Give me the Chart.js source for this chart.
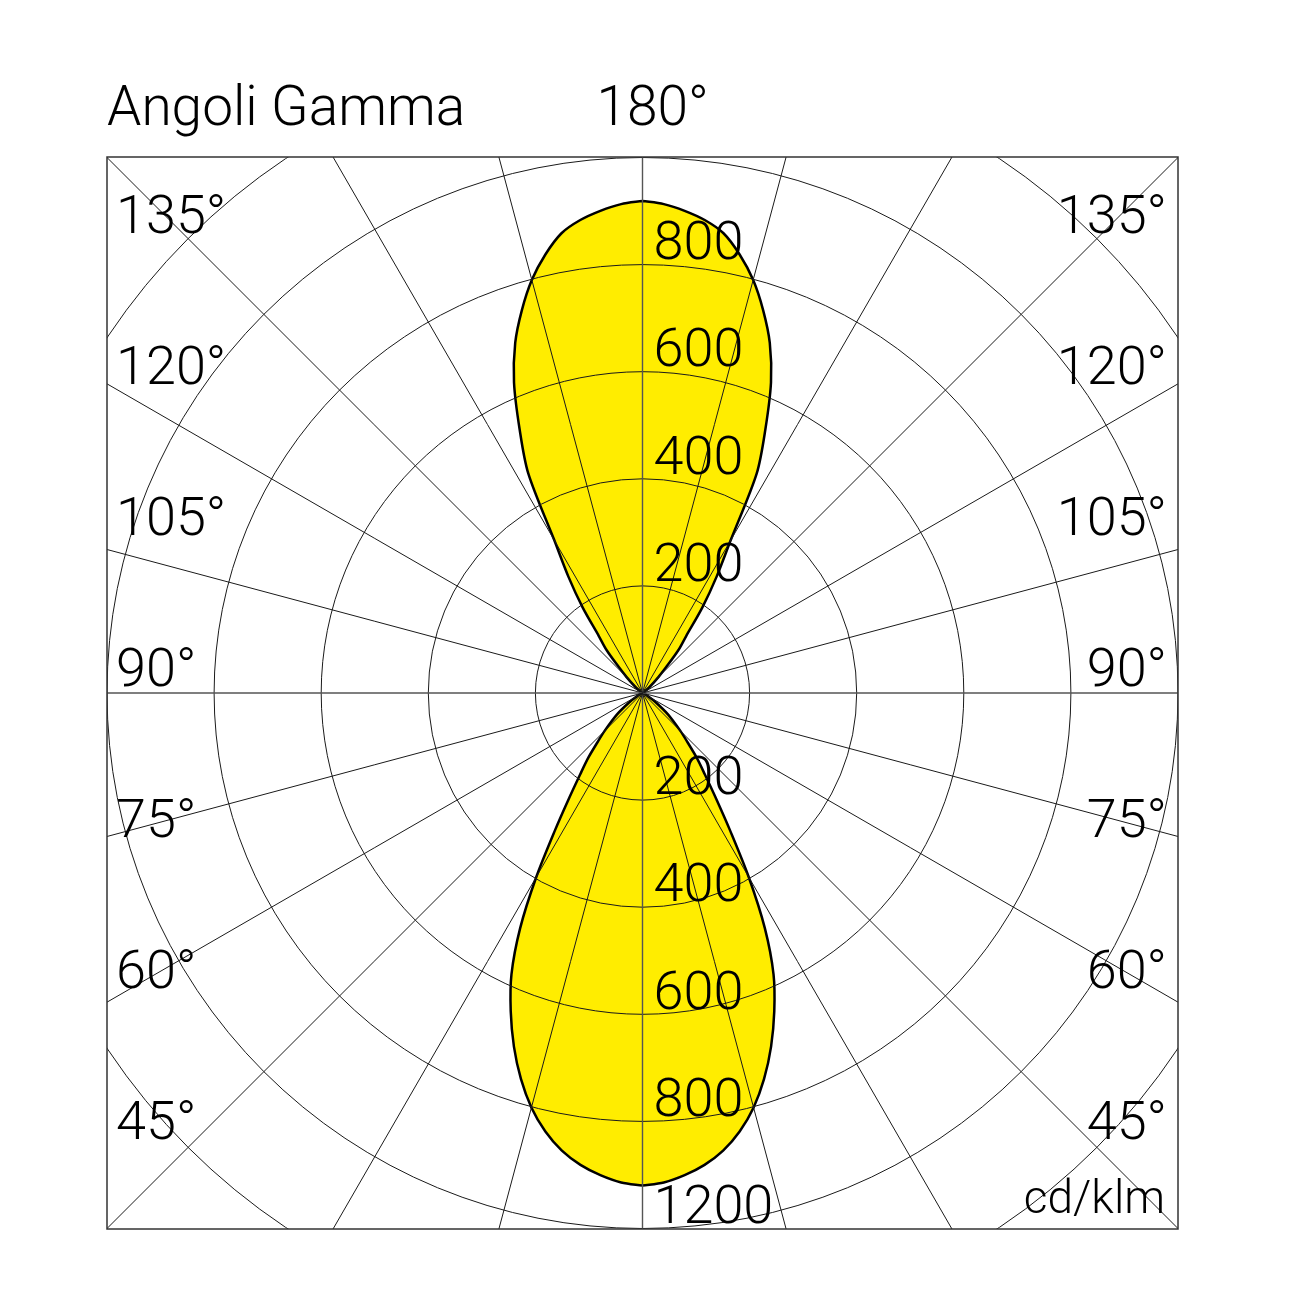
<!DOCTYPE html>
<html>
<head>
<meta charset="utf-8">
<title>Angoli Gamma</title>
<script src="https://cdn.jsdelivr.net/npm/chart.js@4.4.1/dist/chart.umd.min.js"></script>
<style>
  html, body { margin: 0; padding: 0; background: #fff; }
  canvas { display: block; }
</style>
</head>
<body>
<canvas id="polar" width="1302" height="1302"></canvas>
<script>
// gamma angles (0 = down, 180 = up) and intensity in cd/klm
var gammaAngles = [0, 2.5, 5, 7.5, 10, 12.5, 15, 17.5, 20, 22.5, 25, 27.5, 30, 32.5, 35, 37.5, 40, 42.5, 45,
  50, 55, 60, 65, 70, 75, 80, 85, 90, 95, 100, 105, 110, 115, 120, 125, 130,
  135, 137.5, 140, 142.5, 145, 147.5, 150, 152.5, 155, 157.5, 160, 162.5, 165, 167.5, 170, 172.5, 175, 177.5, 180];
var intensity = [919, 914, 903, 888, 867, 838, 801, 755, 702, 643, 579, 495, 397, 305, 238, 191, 157, 124, 100,
  62, 30, 12, 3, 0, 0, 0, 0, 0, 0, 0, 0, 0, 0, 0, 5, 17,
  42, 65, 104, 134, 195, 258, 330, 462, 543, 627, 695, 749, 798, 838, 871, 890, 903, 913, 918];

var radiusTicks = [200, 400, 600, 800, 1000, 1200];
var upperTickLabels = ['200', '400', '600', '800'];
var lowerTickLabels = ['200', '400', '600', '800', '1200'];
var angleLabels = ['135°', '120°', '105°', '90°', '75°', '60°', '45°'];
var topLabel = '180°';
var titleText = 'Angoli Gamma';
var unitText = 'cd/klm';

var FONT = 'Roboto, "Liberation Sans", Arial, sans-serif';

// closed outline: right half going up, then mirrored left half coming back
var points = [];
for (var i = 0; i < gammaAngles.length; i++) {
  var g = gammaAngles[i] * Math.PI / 180;
  points.push({x: intensity[i] * Math.sin(g), y: -intensity[i] * Math.cos(g)});
}
for (var j = gammaAngles.length - 1; j >= 0; j--) {
  var g2 = gammaAngles[j] * Math.PI / 180;
  points.push({x: -intensity[j] * Math.sin(g2), y: -intensity[j] * Math.cos(g2)});
}

var polarGrid = {
  id: 'polarGrid',
  afterDatasetsDraw: function (chart) {
    var ctx = chart.ctx;
    var area = chart.chartArea;
    var xs = chart.scales.x;
    var ys = chart.scales.y;
    var cx = xs.getPixelForValue(0);
    var cy = ys.getPixelForValue(0);
    var unit = xs.getPixelForValue(1) - cx;

    ctx.save();
    ctx.beginPath();
    ctx.rect(area.left, area.top, area.right - area.left, area.bottom - area.top);
    ctx.clip();

    ctx.strokeStyle = '#1a1a1a';
    ctx.lineWidth = 1;
    for (var k = 0; k < radiusTicks.length; k++) {
      ctx.beginPath();
      ctx.arc(cx, cy, radiusTicks[k] * unit, 0, Math.PI * 2);
      ctx.stroke();
    }
    var far = 2000 * unit;
    for (var a = 0; a < 360; a += 15) {
      var rad = a * Math.PI / 180;
      ctx.beginPath();
      if (a % 90 === 0) {
        ctx.strokeStyle = '#555';
        ctx.lineWidth = 1.4;
      } else {
        ctx.strokeStyle = '#1a1a1a';
        ctx.lineWidth = 1;
      }
      ctx.moveTo(cx, cy);
      ctx.lineTo(cx + far * Math.sin(rad), cy + far * Math.cos(rad));
      ctx.stroke();
    }
    ctx.restore();

    // frame
    ctx.save();
    ctx.strokeStyle = '#333';
    ctx.lineWidth = 1.5;
    ctx.strokeRect(area.left, area.top, area.right - area.left, area.bottom - area.top);
    ctx.restore();

    // texts
    ctx.save();
    ctx.fillStyle = '#000';
    ctx.textBaseline = 'alphabetic';
    ctx.font = '300 55px ' + FONT;
    ctx.textAlign = 'left';
    ctx.fillText(titleText, area.left, area.top - 32);
    ctx.fillText(topLabel, cx - 46, area.top - 32);

    ctx.font = '300 54px ' + FONT;
    for (var m = 0; m < upperTickLabels.length; m++) {
      ctx.fillText(upperTickLabels[m], cx + 11, ys.getPixelForValue(radiusTicks[m]) - 5);
    }
    for (var n = 0; n < lowerTickLabels.length; n++) {
      ctx.fillText(lowerTickLabels[n], cx + 11, ys.getPixelForValue(-radiusTicks[n]) - 6);
    }

    for (var p = 0; p < angleLabels.length; p++) {
      var by = area.top + 76 + p * 151;
      ctx.textAlign = 'left';
      ctx.fillText(angleLabels[p], area.left + 9, by);
      ctx.textAlign = 'right';
      ctx.fillText(angleLabels[p], area.right - 11, by);
    }

    ctx.font = '300 46px ' + FONT;
    ctx.textAlign = 'right';
    ctx.fillText(unitText, area.right - 13, area.bottom - 16);
    ctx.restore();
  }
};

var chart = new Chart(document.getElementById('polar'), {
  type: 'scatter',
  data: {
    datasets: [{
      data: points,
      showLine: true,
      fill: 'shape',
      backgroundColor: '#FFED00',
      borderColor: '#000',
      borderWidth: 2.5,
      pointRadius: 0,
      tension: 0.3
    }]
  },
  options: {
    responsive: false,
    animation: false,
    devicePixelRatio: 1,
    layout: {padding: {left: 107, top: 157, right: 124, bottom: 73}},
    scales: {
      x: {type: 'linear', min: -1000, max: 1000, display: false},
      y: {type: 'linear', min: -1000, max: 1000, display: false}
    },
    plugins: {legend: {display: false}, tooltip: {enabled: false}}
  },
  plugins: [polarGrid]
});
</script>
</body>
</html>
